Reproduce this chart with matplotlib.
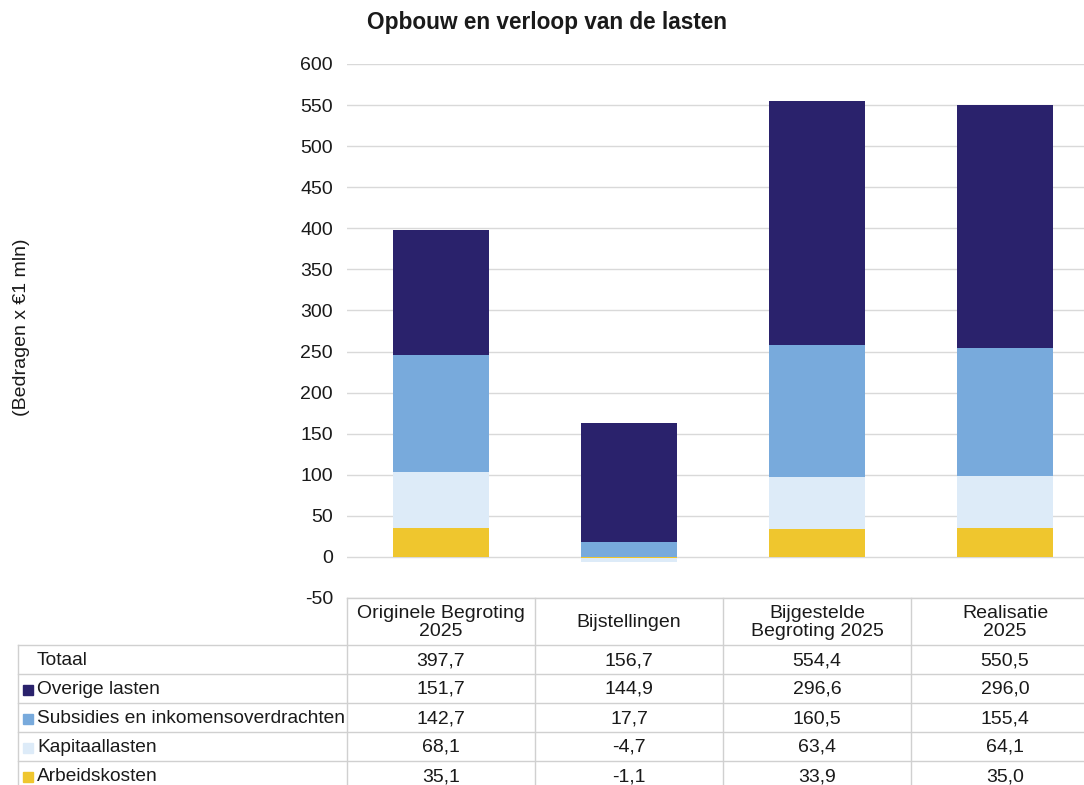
import matplotlib.pyplot as plt
import numpy as np

plt.rcParams['font.family'] = ['Liberation Sans', 'DejaVu Sans']
plt.rcParams['axes.unicode_minus'] = False

# data
categories = ['Originele Begroting\n2025', 'Bijstellingen',
              'Bijgestelde\nBegroting 2025', 'Realisatie\n2025']
series = ['Arbeidskosten', 'Kapitaallasten',
          'Subsidies en inkomensoverdrachten', 'Overige lasten']
arbeidskosten = [35.1, -1.1, 33.9, 35.0]
kapitaallasten = [68.1, -4.7, 63.4, 64.1]
subsidies = [142.7, 17.7, 160.5, 155.4]
overige = [151.7, 144.9, 296.6, 296.0]
totaal = ['397,7', '156,7', '554,4', '550,5']
colors = ['#efc62e', '#ddebf8', '#78aadc', '#2a226c']

values = [arbeidskosten, kapitaallasten, subsidies, overige]

W, H = 1084, 785
fig = plt.figure(figsize=(W / 100, H / 100), dpi=100)


def fx(x):
    return x / W


def fy(y):
    return 1 - y / H


# plot area in pixels
left, right, top, bottom = 347, 1099, 64, 598
ax = fig.add_axes([fx(left), fy(bottom), fx(right) - fx(left), fy(top) - fy(bottom)])

x = np.arange(len(categories))
pos_base = np.zeros(len(categories))
neg_base = np.zeros(len(categories))
for vals, c in zip(values, colors):
    v = np.array(vals)
    base = np.where(v >= 0, pos_base, neg_base)
    ax.bar(x, v, bottom=base, width=0.515, color=c, zorder=3)
    pos_base = pos_base + np.where(v >= 0, v, 0)
    neg_base = neg_base + np.where(v < 0, v, 0)

ax.set_xlim(-0.5, len(categories) - 0.5)
ax.set_ylim(-50, 600)
ax.set_yticks(np.arange(-50, 601, 50))
ax.tick_params(axis='y', length=0, pad=10, labelsize=14, labelcolor='#1a1a1a')
ax.set_xticks([])
ax.grid(axis='y', color='#d9d9d9', linewidth=1, zorder=0)
for s in ax.spines.values():
    s.set_visible(False)

fig.text(fx(547), fy(22), 'Opbouw en verloop van de lasten', ha='center', va='center',
         fontsize=16.3, fontweight='bold', color='#1a1a1a')
fig.text(fx(22), fy(327), '(Bedragen x €1 mln)', rotation=90, ha='center', va='center',
         fontsize=14, color='#1a1a1a')

# data table drawn below the plot
tab = fig.add_axes([0, 0, 1, 1])
tab.set_xlim(0, W)
tab.set_ylim(H, 0)
tab.axis('off')

line_c = '#d0d0d0'
label_left = 18
col_edges = [left + i * (right - left) / len(categories) for i in range(len(categories) + 1)]
row_edges = [598, 645, 674, 703, 732, 761, 790]

# header
tab.plot([col_edges[0], col_edges[-1]], [row_edges[0], row_edges[0]], color=line_c, lw=1)
for i, cat in enumerate(categories):
    cx = (col_edges[i] + col_edges[i + 1]) / 2
    tab.text(cx, (row_edges[0] + row_edges[1]) / 2 + 1, cat, ha='center', va='center',
             fontsize=14, color='#1a1a1a', linespacing=1.0)

row_labels = ['Totaal'] + series[::-1]
row_colors = [None] + colors[::-1]
row_values = [totaal] + [[f'{v:.1f}'.replace('.', ',') for v in vals] for vals in values[::-1]]

for r in range(len(row_labels)):
    y0, y1 = row_edges[r + 1], row_edges[r + 2]
    ym = (y0 + y1) / 2 + 1
    tab.plot([label_left, col_edges[-1]], [y0, y0], color=line_c, lw=1)
    if row_colors[r] is not None:
        tab.add_patch(plt.Rectangle((23, ym - 5), 10, 10, color=row_colors[r]))
    tab.text(37, ym, row_labels[r], ha='left', va='center', fontsize=13.8, color='#1a1a1a')
    for i, txt in enumerate(row_values[r]):
        cx = (col_edges[i] + col_edges[i + 1]) / 2
        tab.text(cx, ym, txt, ha='center', va='center', fontsize=14, color='#1a1a1a')

# vertical lines
tab.plot([label_left, label_left], [row_edges[1], row_edges[-1]], color=line_c, lw=1)
for xe in col_edges:
    tab.plot([xe, xe], [row_edges[0], row_edges[-1]], color=line_c, lw=1)

fig.savefig('out.png', dpi=100)
